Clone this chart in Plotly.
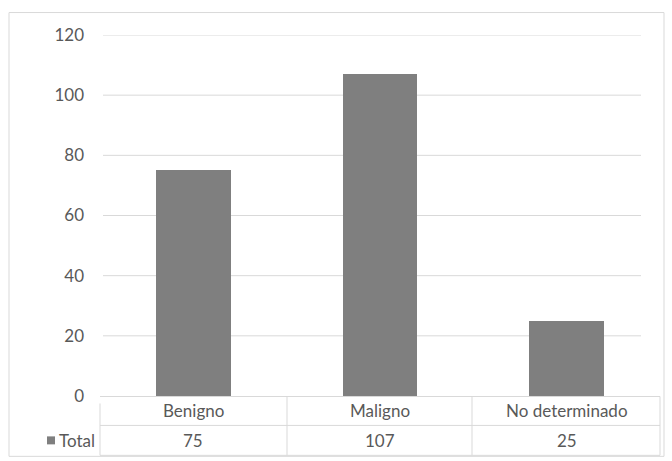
import plotly.graph_objects as go

categories = ["Benigno", "Maligno", "No determinado"]
totals = [75, 107, 25]
series_name = "Total"
y_ticks = [0, 20, 40, 60, 80, 100, 120]

BAR = "#7f7f7f"
GRID = "#d9d9d9"
TXT = "#595959"
FONT = "Lato, 'Open Sans', sans-serif"
FS = 17

W, H = 672, 461
L, R = 100, 660
TOP, BOT = 34.5, 396.5


def px(x):
    return (x - L) / (R - L)


def py(y):
    return (BOT - y) / (BOT - TOP)


fig = go.Figure()
fig.add_trace(go.Bar(x=categories, y=totals, name=series_name,
                     marker=dict(color=BAR, line=dict(width=0)), width=0.4))

shapes = []
# gridlines
for t in y_ticks[1:]:
    shapes.append(dict(type="line", xref="paper", yref="y", x0=px(103), x1=px(641),
                       y0=t, y1=t, line=dict(color=GRID, width=1), layer="below"))
# data table lines
for yy in [397, 426, 456]:
    shapes.append(dict(type="line", xref="paper", yref="paper", x0=px(100), x1=px(660),
                       y0=py(yy), y1=py(yy), line=dict(color=GRID, width=1)))
for xx in [287, 472, 660]:
    shapes.append(dict(type="line", xref="paper", yref="paper", x0=px(xx), x1=px(xx),
                       y0=py(397), y1=py(456), line=dict(color=GRID, width=1)))
shapes.append(dict(type="line", xref="paper", yref="paper", x0=px(100), x1=px(100),
                   y0=py(404), y1=py(456), line=dict(color=GRID, width=1)))
# legend key
shapes.append(dict(type="rect", xref="paper", yref="paper", x0=px(47), x1=px(55),
                   y0=py(445), y1=py(437), fillcolor=BAR, line=dict(width=0)))
# outer chart border
shapes.append(dict(type="rect", xref="paper", yref="paper", x0=px(9), x1=px(664),
                   y0=py(457), y1=py(12), line=dict(color=GRID, width=1)))

annotations = []
for c, v in zip(categories, totals):
    annotations.append(dict(x=c, xref="x", y=py(411.5), yref="paper", text=c,
                            showarrow=False, xanchor="center", yanchor="middle",
                            font=dict(family=FONT, size=FS, color=TXT)))
    annotations.append(dict(x=c, xref="x", y=py(441), yref="paper", text=str(v),
                            showarrow=False, xanchor="center", yanchor="middle",
                            font=dict(family=FONT, size=FS, color=TXT)))
annotations.append(dict(x=px(57), xref="paper", y=py(441), yref="paper", text=series_name,
                        showarrow=False, xanchor="left", yanchor="middle",
                        font=dict(family=FONT, size=FS, color=TXT)))

fig.update_layout(
    width=W, height=H,
    margin=dict(l=L, r=W - R, t=TOP, b=H - BOT, pad=0),
    paper_bgcolor="white", plot_bgcolor="white",
    showlegend=False,
    bargap=0,
    xaxis=dict(range=[-0.5, 2.5], showticklabels=False, showgrid=False,
               zeroline=False, showline=False, ticks=""),
    yaxis=dict(range=[0, 120], tickvals=y_ticks, showgrid=False, zeroline=False,
               showline=False, ticks="", ticklabelstandoff=15,
               tickfont=dict(family=FONT, size=FS, color=TXT)),
    shapes=shapes,
    annotations=annotations,
)

fig.write_html("out.html")
